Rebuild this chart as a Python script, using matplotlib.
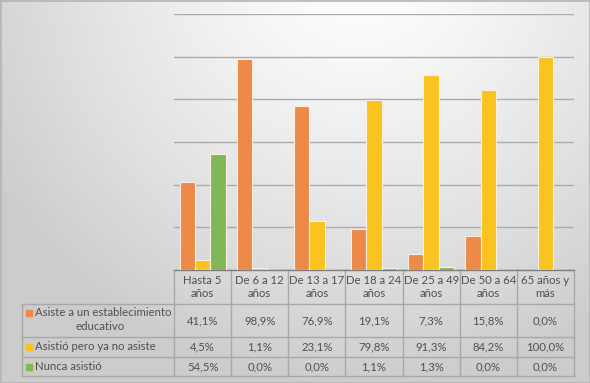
import numpy as np
import matplotlib
matplotlib.use("Agg")
import matplotlib.pyplot as plt
from matplotlib.transforms import blended_transform_factory

categories = ["Hasta 5\naños", "De 6 a 12\naños", "De 13 a 17\naños", "De 18 a 24\naños",
              "De 25 a 49\naños", "De 50 a 64\naños", "65 años y\nmás"]
series_names = ["Asiste a un establecimiento\neducativo", "Asistió pero ya no asiste", "Nunca asistió"]
asiste = [41.1, 98.9, 76.9, 19.1, 7.3, 15.8, 0.0]
asistio = [4.5, 1.1, 23.1, 79.8, 91.3, 84.2, 100.0]
nunca = [54.5, 0.0, 0.0, 1.1, 1.3, 0.0, 0.0]
colors = ["#EE8A48", "#FBC320", "#80B75B"]

plt.rcParams['font.family'] = ['Lato', 'DejaVu Sans']
W, H = 590, 383
fig = plt.figure(figsize=(W / 100, H / 100), dpi=100)

# background with radial-ish gradient, in pixel coordinates
ov = fig.add_axes([0, 0, 1, 1], zorder=0)
ov.set_xlim(0, W)
ov.set_ylim(H, 0)
ov.axis("off")
yy, xx = np.mgrid[0:H, 0:W]
d = np.sqrt((xx - 360) ** 2 + (yy + 40) ** 2)
g = 1.0 - 0.20 * np.clip(d / 430, 0, 1) ** 1.3
bg = np.dstack([g, g, g])
ov.imshow(bg, extent=(0, W, H, 0), aspect="auto", interpolation="bilinear")
ov.plot([0.5, W - 0.5, W - 0.5, 0.5, 0.5], [0.5, 0.5, H - 0.5, H - 0.5, 0.5], color="#B4B4B4", lw=1.2)

# chart axes
left, right, top, base = 174, 574, 14, 270
ax = fig.add_axes([left / W, (H - base) / H, (right - left) / W, (base - top) / H], zorder=1)
ax.set_facecolor("none")
x = np.arange(len(categories))
w = 0.268
data = [asiste, asistio, nunca]
for i, (vals, c) in enumerate(zip(data, colors)):
    ax.bar(x + (i - 1) * w, [v / 100 for v in vals], width=w, color=c,
           edgecolor="#FBEFE6", linewidth=0.8, zorder=3)
ax.set_xlim(-0.5, len(categories) - 0.5)
ax.set_ylim(0, 1.2)
ax.set_yticks(np.arange(0, 1.21, 0.2))
ax.yaxis.grid(True, color="#ABABAB", lw=1.0, zorder=0)
ax.tick_params(left=False, bottom=False, labelleft=False, labelbottom=False)
for s in ["left", "right", "top"]:
    ax.spines[s].set_visible(False)
ax.spines["bottom"].set_color("#7F7F7F")
ax.spines["bottom"].set_linewidth(1.0)

# data table below chart
tr = blended_transform_factory(ax.transData, ov.transData)
rows_y = [270, 304, 337, 357, 376]
lc = "#A8A8A8"
tleft = 22
for y in rows_y[1:]:
    ov.plot([tleft, right], [y, y], color=lc, lw=1.0)
ov.plot([tleft, tleft], [rows_y[1], rows_y[-1]], color=lc, lw=1.0)
for k in range(len(categories) + 1):
    ov.plot([left + k * (right - left) / len(categories)] * 2, [rows_y[0], rows_y[-1]], color=lc, lw=1.0)

fs = 8.2
tc = "#505050"
for k, cat in enumerate(categories):
    ax.text(k, (rows_y[0] + rows_y[1]) / 2, cat, transform=tr, ha="center", va="center",
            fontsize=fs, color=tc, linespacing=1.3, clip_on=False)
for r, vals in enumerate(data):
    yc = (rows_y[r + 1] + rows_y[r + 2]) / 2
    for k, v in enumerate(vals):
        ax.text(k, yc, f"{v:.1f}%".replace(".", ","), transform=tr, ha="center", va="center",
                fontsize=fs, color=tc, clip_on=False)

# legend keys inside table
ov.add_patch(plt.Rectangle((26, 309.5), 6, 6, color=colors[0]))
ov.text(35, 312.5, "Asiste a un establecimiento", ha="left", va="center", fontsize=fs, color=tc)
ov.text(100, 327, "educativo", ha="center", va="center", fontsize=fs, color=tc)
ov.add_patch(plt.Rectangle((26, 344), 6, 6, color=colors[1]))
ov.text(35, 347, "Asistió pero ya no asiste", ha="left", va="center", fontsize=fs, color=tc)
ov.add_patch(plt.Rectangle((26, 363.5), 6, 6, color=colors[2]))
ov.text(35, 366.5, "Nunca asistió", ha="left", va="center", fontsize=fs, color=tc)

fig.savefig("out.png", dpi=100)
